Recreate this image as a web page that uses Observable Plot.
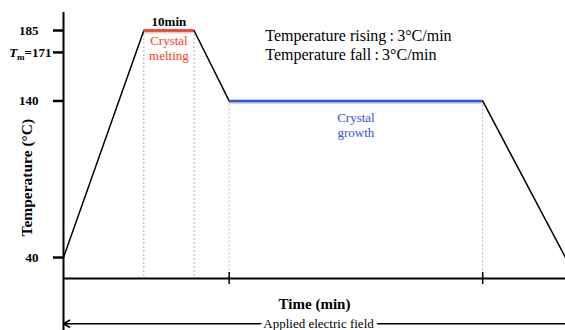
<!DOCTYPE html>
<html>
<head>
<meta charset="utf-8">
<script src="https://cdn.jsdelivr.net/npm/d3@7"></script>
<script src="https://cdn.jsdelivr.net/npm/@observablehq/plot@0.6"></script>
<style>
  html, body { margin: 0; padding: 0; background: #fff; }
</style>
</head>
<body>
<div id="chart"></div>
<script>
// ---- data ----
const times = [0, 16, 26, 33, 83.5, 100];          // schematic time points
const temps = [40, 185, 185, 140, 140, 40];         // temperature (°C)
const yTicks = [40, 140, 171, 185];
const yTickLabels = ["40", "140", "Tm=171", "185"];
const stageNames = ["Crystal\nmelting", "Crystal\ngrowth"];
const stageStart = [16, 33];
const stageEnd = [26, 83.5];
const stageTemp = [185, 140];
const stageColors = ["#ff3b26", "#3552e2"];
const holdLabel = "10min";
const rateTexts = ["Temperature rising\u2009:\u20093°C/min", "Temperature fall\u2009:\u20093°C/min"];
const xTickTimes = [33, 83.5];
const xLabel = "Time (min)";
const yLabel = "Temperature (°C)";
const fieldLabel = "Applied electric field";

// ---- derived tables ----
const profile = times.map((t, i) => ({t, temp: temps[i]}));
const stages = stageNames.map((name, i) => ({name, start: stageStart[i], end: stageEnd[i], temp: stageTemp[i], color: stageColors[i]}));
const yDomain = [26.6, 196.5];
const yMin = yDomain[0];
const labelOf = new Map(yTicks.map((v, i) => [v, yTickLabels[i]]));

const serif = "'Liberation Serif', 'Times New Roman', serif";

const plot = Plot.plot({
  width: 565,
  height: 330,
  marginLeft: 63,
  marginRight: 0,
  marginTop: 12,
  marginBottom: 52,
  style: {fontFamily: serif, background: "white", overflow: "visible"},
  x: {domain: [0, 100], axis: null},
  y: {domain: yDomain, axis: null},
  color: {type: "identity"},
  marks: [
    // dashed drop lines
    Plot.ruleX(profile.slice(1, 5), {x: "t", y1: "temp", y2: yMin, stroke: "#9a9a9a", strokeWidth: 0.8, strokeDasharray: "2,2"}),
    // x axis line
    Plot.ruleY([yMin], {stroke: "black", strokeWidth: 2}),
    // x ticks
    Plot.ruleX(xTickTimes, {y1: yMin, y2: yMin, insetTop: -6, insetBottom: -6, stroke: "black", strokeWidth: 1.5}),
    // y axis line
    Plot.ruleX([0], {stroke: "black", strokeWidth: 2, insetBottom: -52}),
    // y axis ticks and labels
    Plot.axisY(yTicks, {
      tickSize: 10, tickPadding: 15, strokeWidth: 2.5,
      tickFormat: d => labelOf.get(d),
      fontSize: 13, fontWeight: "bold", label: null, fill: "black"
    }),
    // shadows under stage segments
    Plot.ruleY(stages, {y: "temp", x1: "start", x2: "end", stroke: "#b8b8b8", strokeWidth: 2, dy: 2, opacity: 0.6}),
    // temperature profile
    Plot.line(profile, {x: "t", y: "temp", stroke: "black", strokeWidth: 1.5}),
    // coloured stage segments
    Plot.ruleY(stages, {y: "temp", x1: "start", x2: "end", stroke: "color", strokeWidth: 2.5}),
    // stage labels
    Plot.text(stages.slice(0, 1), {x: d => (d.start + d.end) / 2, y: "temp", text: "name", fill: "color", lineAnchor: "top", dy: 4, fontSize: 13, lineHeight: 1.15}),
    Plot.text(stages.slice(1, 2), {x: d => (d.start + d.end) / 2, y: "temp", text: "name", fill: "color", lineAnchor: "top", dy: 10, fontSize: 13, lineHeight: 1.15}),
    // hold time label
    Plot.text(stages.slice(0, 1), {x: d => (d.start + d.end) / 2, y: "temp", text: () => holdLabel, lineAnchor: "bottom", dy: -5, fontSize: 13, fontWeight: "bold", fill: "black"}),
    // rate texts
    Plot.text([rateTexts.join("\n")], {x: 40.2, y: stageTemp[0], text: d => d, textAnchor: "start", lineAnchor: "top", dy: -3, fontSize: 16, lineHeight: 1.2, fill: "black"}),
    // y label
    Plot.text([yLabel], {frameAnchor: "left", y: 91, dx: -36, rotate: -90, textAnchor: "middle", fontSize: 15.5, fontWeight: "bold", fill: "black"}),
    // x label
    Plot.text([xLabel], {frameAnchor: "bottom", dy: 30, fontSize: 15, fontWeight: "bold", fill: "black"}),
    // applied electric field arrow
    Plot.arrow([{a: 100, b: 0}], {x1: "a", x2: "b", y1: -2.3, y2: -2.3, stroke: "black", strokeWidth: 1.5, headLength: 7}),
    Plot.text([fieldLabel], {x: 50.8, y: -2.3, text: d => d, fontSize: 13, fill: "black", stroke: "white", strokeWidth: 8, paintOrder: "stroke"})
  ]
});

// italic T with subscript m for the melting temperature tick label
d3.select(plot).selectAll("text").each(function() {
  if (this.textContent === "Tm=171") {
    const s = d3.select(this);
    s.text("");
    s.append("tspan").attr("font-style", "italic").attr("dx", 13).text("T");
    s.append("tspan").attr("font-size", 9).attr("dy", 3).text("m");
    s.append("tspan").attr("dy", -3).text("=171");
  }
});

document.getElementById("chart").appendChild(plot);
</script>
</body>
</html>
